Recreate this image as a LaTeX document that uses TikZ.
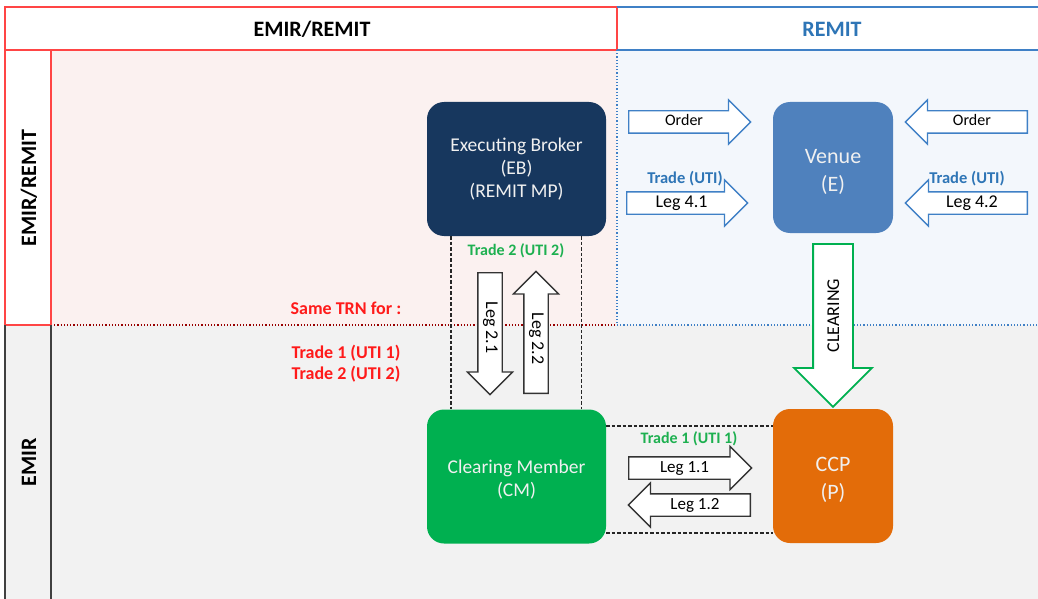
\documentclass[tikz,border=0pt]{standalone}
\usepackage{fontspec}
\setmainfont{Carlito}
\usetikzlibrary{shapes.arrows}
\definecolor{pinkbg}{HTML}{FBF1F0}
\definecolor{bluebg}{HTML}{F3F7FC}
\definecolor{greybg}{HTML}{F2F2F2}
\definecolor{redln}{HTML}{FF4545}
\definecolor{redtx}{HTML}{FF1A1A}
\definecolor{bluetx}{HTML}{2E75B6}
\definecolor{blueln}{HTML}{3F80C6}
\definecolor{greentx}{HTML}{1DB050}
\definecolor{ebcol}{HTML}{17375E}
\definecolor{venuecol}{HTML}{4F81BD}
\definecolor{cmcol}{HTML}{00B050}
\definecolor{ccpcol}{HTML}{E36C09}
\definecolor{boxtx}{HTML}{F0F0F0}
\tikzset{
  box/.style={rounded corners=17pt, align=center, inner sep=0pt, text=boxtx},
  fsnode/.style={font=\fontsize{19.5}{23}\selectfont},
  fsbig/.style={font=\fontsize{22}{28}\selectfont},
  blk/.style={single arrow, draw, fill=white, line width=1.3pt,
    single arrow tip angle=90, inner xsep=3pt, inner ysep=0pt},
  bodyA/.style={text height=14.5pt, text depth=6.5pt},
  arblue/.style={blk, draw=blueln},
  arblack/.style={blk, draw=black!80},
  dsh/.style={dashed, dash pattern=on 3.5pt off 2pt, line width=1.2pt, black!85},
  hdr/.style={font=\bfseries\fontsize{22}{26}\selectfont},
  lbluetx/.style={font=\bfseries\fontsize{16.5}{20}\selectfont, text=bluetx, inner sep=0pt},
  lgreentx/.style={font=\bfseries\fontsize{16}{20}\selectfont, text=greentx, inner sep=0pt},
  lredtx/.style={font=\bfseries\fontsize{18}{22}\selectfont, text=redtx, inner sep=0pt, align=center},
}
\begin{document}
\begin{tikzpicture}[x=1pt,y=-1pt]
\useasboundingbox (0,0) rectangle (1038,599);
\fill[white] (0,0) rectangle (1038,599);
% backgrounds
\fill[pinkbg] (51,50) rectangle (617,325);
\fill[bluebg] (617,50) rectangle (1038,325);
\fill[greybg] (5,325) rectangle (1038,599);
% header
\draw[redln, line width=1.5pt, fill=white] (5,7) rectangle (617,50);
\draw[blueln, line width=1.5pt] (617,7) -- (1038,7);
\draw[blueln, line width=1.5pt] (617,50) -- (1038,50);
\node[hdr] (hleft) at (312,29) {EMIR/REMIT};
\node[hdr, text=bluetx] (hright) at (832,29) {REMIT};
% row dividers
\draw[blueln, dotted, line width=1.2pt] (617,50) -- (617,325);
\draw[red!60!black, dotted, line width=1.2pt] (51,325) -- (617,325);
\draw[blueln, dotted, line width=1.2pt] (617,325) -- (1038,325);
% left label column
\draw[redln, line width=1.5pt, fill=white] (5,50) rectangle (51,325);
\draw[black!75, line width=1.3pt] (5,325) -- (5,599) (51,325) -- (51,599);
\node[hdr, rotate=90] (rowa) at (29,188) {EMIR/REMIT};
\node[hdr, rotate=90] (rowb) at (29,462) {EMIR};
% main nodes
\node[box, fsnode, fill=ebcol, minimum width=179pt, minimum height=134pt] (eb) at (516.5,169) {Executing Broker\\(EB)\\(REMIT MP)};
\node[box, fsbig, fill=venuecol, minimum width=120pt, minimum height=131pt] (venue) at (833,167.5) {\rule{0pt}{23pt}Venue\\(E)};
\node[box, fsnode, fill=cmcol, minimum width=179pt, minimum height=134pt] (cm) at (516.5,476.5) {\rule{0pt}{20pt}Clearing Member\\(CM)};
\node[box, fsbig, fill=ccpcol, minimum width=120pt, minimum height=134pt] (ccp) at (833,476) {\rule{0pt}{23pt}CCP\\(P)};
% dashed frames
\draw[dsh] ([xshift=-65.5pt]eb.south) -- ([xshift=-65.5pt]cm.north);
\draw[dsh] ([xshift=65pt]eb.south) -- ([xshift=65pt]cm.north);
\draw[dsh] ([yshift=50.5pt]cm.east) -- ([yshift=50.5pt]cm.east -| ccp.west);
\draw[dsh] ([yshift=-56.5pt]cm.east) -- ([yshift=-56.5pt]cm.east -| ccp.west);
% block arrows (minimum height = length, minimum width = head span)
\node[arblue, bodyA, minimum height=122pt, minimum width=43pt, single arrow head extend=11pt, anchor=tail, font=\fontsize{16}{18}\selectfont] (ord1) at (628,122) {Order};
\node[arblue, bodyA, minimum height=122pt, minimum width=43pt, single arrow head extend=11pt, shape border rotate=180, anchor=tail, font=\fontsize{16}{18}\selectfont] (ord2) at (1028,122) {Order};
\node[arblue, bodyA, minimum height=121pt, minimum width=45pt, single arrow head extend=12pt, anchor=tail, font=\fontsize{18}{20}\selectfont] (leg41) at (626,203) {Leg 4.1};
\node[arblue, bodyA, minimum height=122pt, minimum width=45pt, single arrow head extend=12pt, shape border rotate=180, anchor=tail, font=\fontsize{18}{20}\selectfont] (leg42) at (1028,203) {Leg 4.2};
\node[arblack, bodyA, minimum height=123pt, minimum width=42pt, single arrow head extend=10.5pt, anchor=tail, font=\fontsize{17}{20}\selectfont] (leg11) at (628,468) {Leg 1.1};
\node[arblack, bodyA, minimum height=122pt, minimum width=44pt, single arrow head extend=11pt, shape border rotate=180, anchor=tail, font=\fontsize{17}{20}\selectfont] (leg12) at (751,505) {Leg 1.2};
\node[arblack, text height=15.5pt, text depth=7.5pt, minimum height=122pt, minimum width=44pt, single arrow head extend=10.5pt, rotate=-90, anchor=tail, font=\fontsize{18}{20}\selectfont] (leg21) at (490,272) {Leg 2.1};
\node[arblack, text height=15.5pt, text depth=7.5pt, minimum height=122pt, minimum width=44pt, single arrow head extend=10.5pt, rotate=-90, shape border rotate=180, anchor=tail, font=\fontsize{18}{20}\selectfont] (leg22) at (536,394) {Leg 2.2};
\node[blk, draw=cmcol, line width=1.8pt, text height=25pt, text depth=13pt, minimum height=163pt, minimum width=76pt, single arrow head extend=19pt, rotate=90, shape border rotate=180, anchor=tail, font=\fontsize{18}{20}\selectfont] (clr) at (833,243) {CLEARING};
% labels
\node[lbluetx] (t41) at (685,179) {Trade (UTI)};
\node[lbluetx] (t42) at (967,179) {Trade (UTI)};
\node[lgreentx] (tg1) at (689,439) {Trade 1 (UTI 1)};
\node[lgreentx] (tg2) at (516,251) {Trade 2 (UTI 2)};
\node[lredtx] (same) at (346,308) {Same TRN for :};
\node[lredtx, font=\bfseries\fontsize{18}{21.5}\selectfont] (trades) at (346,363.5) {Trade 1 (UTI 1)\\Trade 2 (UTI 2)};
\end{tikzpicture}
\end{document}
